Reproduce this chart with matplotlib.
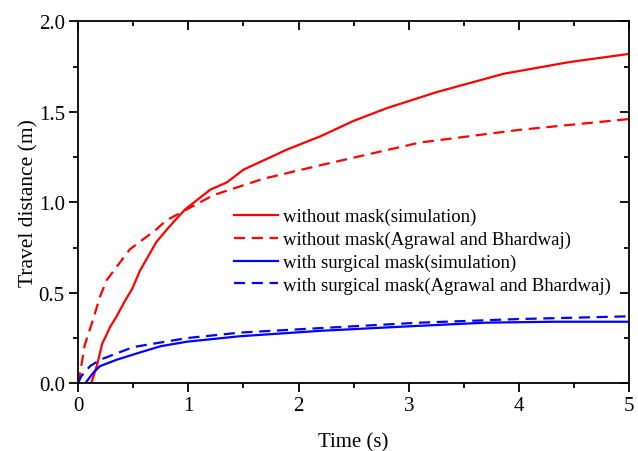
import matplotlib
matplotlib.use("Agg")
import matplotlib.pyplot as plt
from matplotlib.ticker import MultipleLocator

plt.rcParams['font.family'] = ['Liberation Serif', 'DejaVu Serif']
plt.rcParams['mathtext.fontset'] = 'stix'

# Without mask - simulation
t_ns = [0.12, 0.13, 0.17, 0.22, 0.26, 0.29, 0.35, 0.43, 0.49, 0.56, 0.71, 0.82, 0.97,
        1.2, 1.35, 1.5, 1.89, 2.2, 2.5, 2.8, 3.26, 3.86, 4.46, 5.0]
d_ns = [0.0, 0.02, 0.095, 0.22, 0.27, 0.31, 0.37, 0.46, 0.52, 0.62, 0.78, 0.86, 0.96,
        1.07, 1.11, 1.18, 1.29, 1.365, 1.45, 1.52, 1.61, 1.71, 1.775, 1.82]

# Without mask - Agrawal and Bhardwaj
t_na = [0.0, 0.02, 0.06, 0.13, 0.2, 0.26, 0.47, 0.71, 0.8, 1.23, 1.68, 2.2, 3.1, 4.0, 5.0]
d_na = [0.0, 0.06, 0.21, 0.34, 0.48, 0.57, 0.74, 0.85, 0.9, 1.04, 1.13, 1.205, 1.33, 1.40, 1.46]

# With surgical mask - simulation
t_ms = [0.066, 0.14, 0.2, 0.35, 0.56, 0.75, 0.99, 1.47, 2.2, 3.01, 3.7, 4.3, 5.0]
d_ms = [0.0, 0.06, 0.095, 0.13, 0.17, 0.205, 0.23, 0.26, 0.29, 0.315, 0.335, 0.34, 0.34]

# With surgical mask - Agrawal and Bhardwaj
t_ma = [0.0, 0.03, 0.11, 0.2, 0.5, 0.99, 1.47, 2.2, 3.1, 4.0, 5.0]
d_ma = [0.0, 0.04, 0.095, 0.13, 0.20, 0.25, 0.28, 0.305, 0.335, 0.355, 0.37]

fig = plt.figure(figsize=(6.38, 4.52), dpi=100)
rect = [0.1223, 0.1498, 0.8641, 0.8009]
ax = fig.add_axes(rect)

lw = 1.6
dash = (0, (5, 3))
ax.plot(t_ns, d_ns, color='#ff0000', lw=lw, label='without mask(simulation)')
ax.plot(t_na, d_na, color='#ff0000', lw=lw, ls=dash, label='without mask(Agrawal and Bhardwaj)')
ax.plot(t_ms, d_ms, color='#0000ff', lw=lw, label='with surgical mask(simulation)')
ax.plot(t_ma, d_ma, color='#0000ff', lw=lw, ls=dash, label='with surgical mask(Agrawal and Bhardwaj)')

ax.set_xlim(0, 5)
ax.set_ylim(0, 2.0)
ax.xaxis.set_major_locator(MultipleLocator(1))
ax.xaxis.set_minor_locator(MultipleLocator(0.5))
ax.yaxis.set_major_locator(MultipleLocator(0.5))
ax.yaxis.set_minor_locator(MultipleLocator(0.25))
ax.yaxis.set_major_formatter(matplotlib.ticker.FormatStrFormatter('%.1f'))

for s in ax.spines.values():
    s.set_linewidth(1.3)

ax.tick_params(which='major', direction='out', length=6.5, width=1.3, labelsize=15, pad=3)
ax.tick_params(which='minor', direction='out', length=3.5, width=1.3)

# mirrored inward ticks on top and right (overlay axes)
ov = fig.add_axes(rect, facecolor='none')
ov.set_xlim(0, 5)
ov.set_ylim(0, 2.0)
ov.xaxis.set_major_locator(MultipleLocator(1))
ov.xaxis.set_minor_locator(MultipleLocator(0.5))
ov.yaxis.set_major_locator(MultipleLocator(0.5))
ov.yaxis.set_minor_locator(MultipleLocator(0.25))
ov.tick_params(which='both', bottom=False, left=False, top=True, right=True,
               labelbottom=False, labelleft=False, direction='in', width=1.3)
ov.tick_params(which='major', length=6.5)
ov.tick_params(which='minor', length=3.5)
for s in ov.spines.values():
    s.set_visible(False)

ax.set_xlabel('Time (s)', fontsize=15, labelpad=12)
ax.set_ylabel('Travel distance (m)', fontsize=15.5, labelpad=0)

leg = ax.legend(loc='upper left', bbox_to_anchor=(0.27, 0.505), frameon=False,
                fontsize=13.5, handlelength=2.3, handletextpad=0.3, labelspacing=0.3,
                borderaxespad=0)

fig.savefig('out.png', dpi=100)
